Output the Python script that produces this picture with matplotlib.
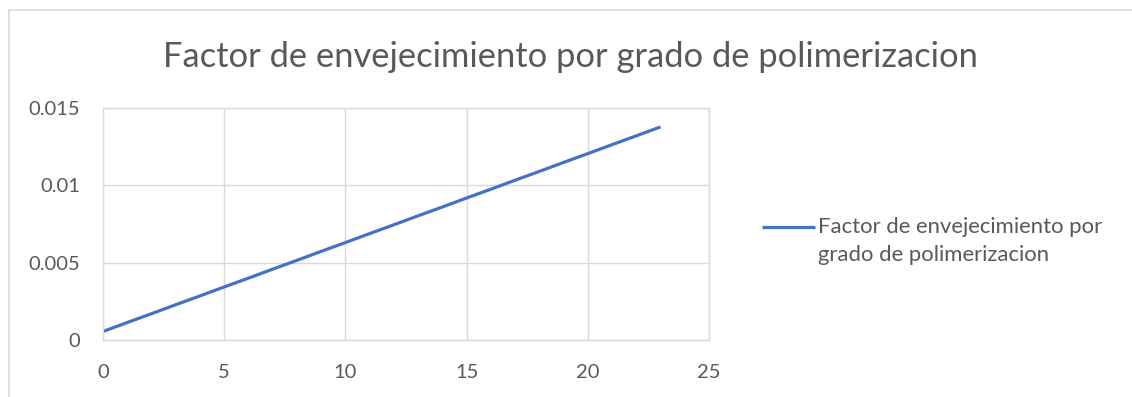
import matplotlib
matplotlib.use('Agg')
import matplotlib.pyplot as plt
from matplotlib.patches import Rectangle
from matplotlib.lines import Line2D

# Grado de polimerizacion (eje x) y factor de envejecimiento (eje y)
grado = list(range(0, 24))
factor = [0.00055, 0.00113, 0.00170, 0.00228, 0.00285, 0.00343, 0.00400, 0.00458,
          0.00515, 0.00573, 0.00630, 0.00688, 0.00745, 0.00803, 0.00860, 0.00918,
          0.00975, 0.01033, 0.01090, 0.01148, 0.01205, 0.01263, 0.01320, 0.01378]

titulo = 'Factor de envejecimiento por grado de polimerizacion'
etiqueta = 'Factor de envejecimiento por\ngrado de polimerizacion'
xticks = [0, 5, 10, 15, 20, 25]
yticks = [0, 0.005, 0.01, 0.015]
ytick_labels = ['0', '0.005', '0.01', '0.015']

gris = '#595959'
rejilla = '#d9d9d9'
azul = '#4472C4'

plt.rcParams['font.family'] = ['Lato', 'DejaVu Sans']

W, H = 1132, 397
fig = plt.figure(figsize=(W / 100, H / 100), dpi=100)
# borde del area del grafico
fig.patches.append(Rectangle((9 / W, -0.05), 1.1, 1 - 10 / H + 0.05,
                             transform=fig.transFigure, fill=False,
                             edgecolor=rejilla, linewidth=1.2))

ax = fig.add_axes([103 / W, 57 / H, 606 / W, 232 / H])
linea, = ax.plot(grado, factor, color=azul, linewidth=2.3, solid_capstyle='butt')

ax.set_xlim(0, 25)
ax.set_ylim(0, 0.015)
ax.set_xticks(xticks)
ax.set_yticks(yticks)
ax.set_yticklabels(ytick_labels)
ax.grid(True, color=rejilla, linewidth=1.0)
ax.set_axisbelow(True)
for s in ax.spines.values():
    s.set_color(rejilla)
    s.set_linewidth(1.0)
ax.tick_params(length=0, labelsize=14.5, colors=gris)
ax.tick_params(axis='y', pad=16.5)
ax.tick_params(axis='x', pad=17)

fig.text(570 / W, 1 - 57 / H, titulo, ha='center', va='center',
         fontsize=24.8, color=gris)

# leyenda a la derecha: muestra de la serie y su nombre en dos lineas
fig.add_artist(Line2D([762 / W, 815 / W], [1 - 227 / H, 1 - 227 / H],
                      transform=fig.transFigure, color=linea.get_color(),
                      linewidth=linea.get_linewidth(), solid_capstyle='butt'))
fig.text(818 / W, 1 - 241 / H, etiqueta, ha='left', va='center',
         fontsize=15.9, color=gris, linespacing=1.5)

plt.savefig('out.png', dpi=100)
